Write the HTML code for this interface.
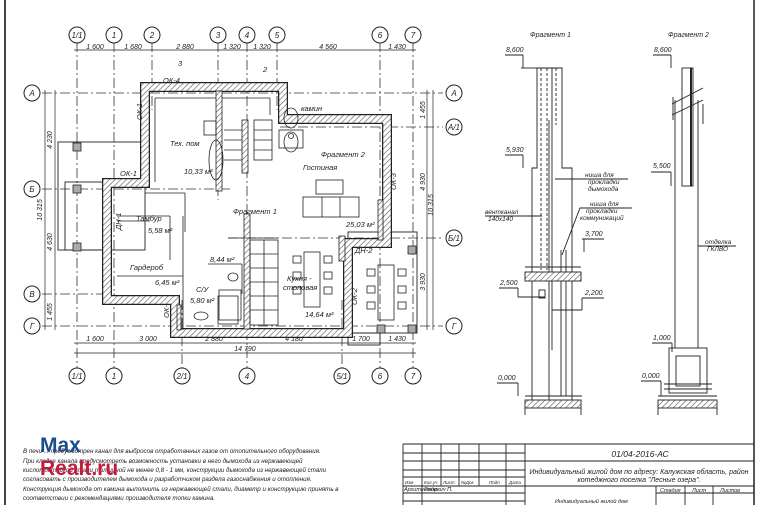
<!DOCTYPE html>
<html><head><meta charset="utf-8"><style>
html,body{margin:0;padding:0;background:#fff;}
svg{display:block;}
text{font-family:"Liberation Sans",sans-serif;font-style:italic;fill:#222;}
</style></head><body>
<svg width="761" height="505" viewBox="0 0 761 505" xmlns="http://www.w3.org/2000/svg">
<defs>
<pattern id="h" width="4" height="4" patternUnits="userSpaceOnUse" patternTransform="rotate(45)">
<rect width="4" height="4" fill="#fff"/><line x1="0" y1="0" x2="0" y2="4" stroke="#555" stroke-width="1.2"/>
</pattern>
</defs>
<rect width="761" height="505" fill="#fff"/>
<!-- frame -->
<line x1="5" y1="0" x2="5" y2="505" stroke="#444" stroke-width="2"/>
<line x1="754" y1="0" x2="754" y2="505" stroke="#222" stroke-width="1.5"/>

<!-- axis lines -->
<g stroke="#333" stroke-width="0.8" stroke-dasharray="10,3,2,3" fill="none">
<line x1="77" y1="42" x2="77" y2="368"/><line x1="114" y1="42" x2="114" y2="368"/>
<line x1="152" y1="42" x2="152" y2="110"/><line x1="218" y1="42" x2="218" y2="200"/>
<line x1="247" y1="42" x2="247" y2="368"/><line x1="277" y1="42" x2="277" y2="110"/>
<line x1="380" y1="42" x2="380" y2="368"/><line x1="413" y1="42" x2="413" y2="368"/>
<line x1="182" y1="300" x2="182" y2="368"/><line x1="342" y1="300" x2="342" y2="368"/>
<line x1="42" y1="93" x2="443" y2="93"/><line x1="280" y1="127" x2="443" y2="127"/>
<line x1="42" y1="189" x2="230" y2="189"/><line x1="228" y1="238" x2="443" y2="238"/>
<line x1="42" y1="294" x2="115" y2="294"/><line x1="42" y1="326" x2="443" y2="326"/>
</g>
<!-- bubbles -->
<g fill="#fff" stroke="#222" stroke-width="1">
<circle cx="77" cy="35" r="8"/><circle cx="114" cy="35" r="8"/><circle cx="152" cy="35" r="8"/><circle cx="218" cy="35" r="8"/><circle cx="247" cy="35" r="8"/><circle cx="277" cy="35" r="8"/><circle cx="380" cy="35" r="8"/><circle cx="413" cy="35" r="8"/>
<circle cx="77" cy="376" r="8"/><circle cx="114" cy="376" r="8"/><circle cx="182" cy="376" r="8"/><circle cx="247" cy="376" r="8"/><circle cx="342" cy="376" r="8"/><circle cx="380" cy="376" r="8"/><circle cx="413" cy="376" r="8"/>
<circle cx="32" cy="93" r="8"/><circle cx="32" cy="189" r="8"/><circle cx="32" cy="294" r="8"/><circle cx="32" cy="326" r="8"/>
<circle cx="454" cy="93" r="8"/><circle cx="454" cy="127" r="8"/><circle cx="454" cy="238" r="8"/><circle cx="454" cy="326" r="8"/>
</g>
<g font-size="8" text-anchor="middle">
<text x="77" y="38">1/1</text><text x="114" y="38">1</text><text x="152" y="38">2</text><text x="218" y="38">3</text><text x="247" y="38">4</text><text x="277" y="38">5</text><text x="380" y="38">6</text><text x="413" y="38">7</text>
<text x="77" y="379">1/1</text><text x="114" y="379">1</text><text x="182" y="379">2/1</text><text x="247" y="379">4</text><text x="342" y="379">5/1</text><text x="380" y="379">6</text><text x="413" y="379">7</text>
<text x="32" y="96">А</text><text x="32" y="192">Б</text><text x="32" y="297">В</text><text x="32" y="329">Г</text>
<text x="454" y="96">А</text><text x="454" y="130">А/1</text><text x="454" y="241">Б/1</text><text x="454" y="329">Г</text>
</g>
<!-- dimension lines -->
<g stroke="#222" stroke-width="0.7">
<line x1="74" y1="50" x2="416" y2="50"/>
<line x1="74" y1="343" x2="416" y2="343"/><line x1="74" y1="353" x2="416" y2="353"/>
<line x1="45" y1="90" x2="45" y2="330"/><line x1="55" y1="90" x2="55" y2="330"/>
<line x1="427" y1="90" x2="427" y2="330"/><line x1="433" y1="90" x2="433" y2="330"/>
</g>
<g font-size="7" text-anchor="middle">
<text x="95" y="49">1 600</text><text x="133" y="49">1 680</text><text x="185" y="49">2 880</text><text x="232" y="49">1 320</text><text x="262" y="49">1 320</text><text x="328" y="49">4 560</text><text x="397" y="49">1 430</text>
<text x="95" y="341">1 600</text><text x="148" y="341">3 000</text><text x="214" y="341">2 880</text><text x="294" y="341">4 180</text><text x="361" y="341">1 700</text><text x="397" y="341">1 430</text>
<text x="245" y="351">14 790</text>
</g>
<g font-size="7" text-anchor="middle">
<text transform="translate(52,140) rotate(-90)">4 230</text>
<text transform="translate(52,242) rotate(-90)">4 630</text>
<text transform="translate(42,210) rotate(-90)">10 315</text>
<text transform="translate(52,312) rotate(-90)">1 455</text>
<text transform="translate(425,110) rotate(-90)">1 455</text>
<text transform="translate(425,182) rotate(-90)">4 930</text>
<text transform="translate(433,205) rotate(-90)">10 315</text>
<text transform="translate(425,282) rotate(-90)">3 930</text>
</g>

<!-- porch left -->
<g fill="none" stroke="#222" stroke-width="0.9">
<rect x="58" y="142" width="87" height="108"/>
<rect x="65" y="182" width="42" height="68"/>
<rect x="348" y="232" width="69" height="101"/>
<rect x="348" y="333" width="32" height="12"/>
</g>
<g fill="#aaa" stroke="#222" stroke-width="0.8">
<rect x="73" y="143" width="8" height="8"/><rect x="73" y="185" width="8" height="8"/><rect x="73" y="243" width="8" height="8"/>
<rect x="408" y="246" width="8" height="8"/><rect x="377" y="325" width="8" height="8"/><rect x="408" y="325" width="8" height="8"/>
</g>

<!-- outer walls -->
<path d="M145,87 L283,87 L283,119 L387,119 L387,243 L348,243 L348,333 L175,333 L175,300 L107,300 L107,183 L145,183 Z" fill="none" stroke="#222" stroke-width="10"/>
<path d="M145,87 L283,87 L283,119 L387,119 L387,243 L348,243 L348,333 L175,333 L175,300 L107,300 L107,183 L145,183 Z" fill="none" stroke="url(#h)" stroke-width="7.5"/>
<!-- interior walls -->
<g fill="url(#h)" stroke="#222" stroke-width="0.8">
<rect x="216" y="91" width="6" height="100"/>
<rect x="242" y="120" width="6" height="53"/>
<rect x="244" y="214" width="6" height="115"/>
<rect x="177" y="305" width="4" height="25"/>
<rect x="339" y="236" width="6" height="25"/>
<rect x="378" y="200" width="5" height="40"/>
</g>
<g fill="none" stroke="#222" stroke-width="0.8">
<line x1="155" y1="98" x2="216" y2="98"/><line x1="155" y1="98" x2="155" y2="182"/>
<line x1="222" y1="98" x2="270" y2="98"/><line x1="270" y1="98" x2="270" y2="115"/>
<line x1="145" y1="193" x2="185" y2="193"/><line x1="185" y1="193" x2="185" y2="232"/>
<line x1="117" y1="216" x2="170" y2="216"/><line x1="117" y1="221" x2="150" y2="221"/>
<line x1="170" y1="216" x2="170" y2="260"/><line x1="183" y1="216" x2="183" y2="330"/>
<line x1="117" y1="276" x2="183" y2="276"/>
<line x1="208" y1="264" x2="242" y2="264"/><line x1="242" y1="264" x2="242" y2="294"/>
<line x1="228" y1="238" x2="278" y2="238"/>
<rect x="219" y="290" width="22" height="30"/>
<rect x="250" y="240" width="28" height="85"/>
<line x1="250" y1="254" x2="278" y2="254"/><line x1="250" y1="268" x2="278" y2="268"/><line x1="250" y1="282" x2="278" y2="282"/><line x1="250" y1="296" x2="278" y2="296"/><line x1="250" y1="310" x2="278" y2="310"/>
<line x1="264" y1="240" x2="264" y2="325"/>
<rect x="304" y="252" width="16" height="55"/>
<rect x="293" y="256" width="8" height="7"/><rect x="293" y="272" width="8" height="7"/><rect x="293" y="287" width="8" height="7"/>
<rect x="324" y="256" width="8" height="7"/><rect x="324" y="272" width="8" height="7"/><rect x="324" y="287" width="8" height="7"/>
<rect x="378" y="265" width="16" height="55"/>
<rect x="367" y="269" width="8" height="7"/><rect x="367" y="286" width="8" height="7"/><rect x="367" y="302" width="8" height="7"/>
<rect x="398" y="269" width="8" height="7"/><rect x="398" y="286" width="8" height="7"/><rect x="398" y="302" width="8" height="7"/>
<rect x="316" y="180" width="27" height="14"/>
<rect x="303" y="197" width="56" height="20"/><line x1="322" y1="197" x2="322" y2="217"/><line x1="340" y1="197" x2="340" y2="217"/>
<rect x="279" y="130" width="24" height="18"/><ellipse cx="291" cy="118" rx="7" ry="10"/><ellipse cx="291" cy="142" rx="7" ry="10"/>
<circle cx="291" cy="136" r="2.5"/>
<rect x="254" y="120" width="18" height="40"/>
<line x1="254" y1="130" x2="272" y2="130"/><line x1="254" y1="140" x2="272" y2="140"/><line x1="254" y1="150" x2="272" y2="150"/>
<line x1="224" y1="130" x2="242" y2="130"/><line x1="224" y1="140" x2="242" y2="140"/><line x1="224" y1="150" x2="242" y2="150"/><line x1="224" y1="160" x2="242" y2="160"/>
<ellipse cx="216" cy="160" rx="7" ry="20"/>
<rect x="204" y="121" width="12" height="14"/>
<rect x="218" y="296" width="20" height="28"/><ellipse cx="201" cy="316" rx="7" ry="4"/>
<ellipse cx="233" cy="277" rx="5" ry="4"/>
</g>
<!-- labels -->
<g font-size="7.5">
<text x="170" y="146">Тех. пом</text>
<text x="184" y="174">10,33 м²</text>
<text x="303" y="170">Гостиная</text>
<text x="136" y="221">Тамбур</text>
<text x="148" y="233">5,58 м²</text>
<text x="130" y="270">Гардероб</text>
<text x="155" y="285">6,45 м²</text>
<text x="210" y="262">8,44 м²</text>
<text x="196" y="292">С/У</text>
<text x="190" y="303">5,80 м²</text>
<text x="287" y="281">Кухня -</text>
<text x="283" y="290">столовая</text>
<text x="305" y="317">14,64 м²</text>
<text x="346" y="227">25,03 м²</text>
<text x="301" y="111">камин</text>
<text x="321" y="157">Фрагмент 2</text>
<text x="233" y="214">Фрагмент 1</text>
<text x="163" y="83">ОК-4</text>
<text x="120" y="176">ОК-1</text>
<text x="355" y="253">ДН-2</text>
<text x="174" y="50" font-size="0">.</text>
<text x="178" y="66">3</text><text x="263" y="72">2</text>
</g>
<g font-size="7.5">
<text transform="translate(142,120) rotate(-90)">ОК-1</text>
<text transform="translate(396,190) rotate(-90)">ОК-3</text>
<text transform="translate(357,305) rotate(-90)">ОК-2</text>
<text transform="translate(121,230) rotate(-90)">ДН-1</text>
<text transform="translate(169,318) rotate(-90)">ОК-</text>
</g>

<!-- Fragment 1 -->
<g fill="none" stroke="#222" stroke-width="0.9">
<text x="530" y="37" font-size="7" stroke="none">Фрагмент 1</text>
<text x="506" y="52" font-size="7" stroke="none">8,600</text>
<line x1="505" y1="55" x2="523" y2="55"/><line x1="523" y1="55" x2="523" y2="68"/>
<line x1="521" y1="68" x2="537" y2="68"/>
<polyline points="537,68 562,68 562,168 572,168 572,400"/>
<polyline points="537,68 537,168 532,168 532,400"/>
<line x1="552" y1="68" x2="552" y2="350"/><line x1="549" y1="120" x2="549" y2="400"/>
<line x1="541" y1="68" x2="541" y2="270" stroke-dasharray="3,2"/><line x1="547" y1="68" x2="547" y2="270" stroke-dasharray="3,2"/>
<line x1="556" y1="68" x2="556" y2="125" stroke-dasharray="3,2"/>
<line x1="561" y1="250" x2="561" y2="396"/><line x1="566" y1="250" x2="566" y2="396"/>
<rect x="525" y="272" width="56" height="9" fill="url(#h)"/>
<line x1="525" y1="267" x2="581" y2="267"/>
<text x="506" y="152" font-size="7" stroke="none">5,930</text>
<line x1="505" y1="155" x2="523" y2="155"/><line x1="523" y1="155" x2="523" y2="168"/>
<text x="485" y="214" font-size="6.5" stroke="none">вентканал</text><text x="488" y="221" font-size="6.5" stroke="none">140х140</text>
<line x1="485" y1="216" x2="542" y2="216"/>
<text x="585" y="177" font-size="6.5" stroke="none">ниша для</text><text x="588" y="184" font-size="6.5" stroke="none">прокладки</text><text x="588" y="191" font-size="6.5" stroke="none">дымохода</text>
<line x1="555" y1="179" x2="628" y2="179"/>
<text x="590" y="206" font-size="6.5" stroke="none">ниша для</text><text x="586" y="213" font-size="6.5" stroke="none">прокладки</text><text x="580" y="220" font-size="6.5" stroke="none">коммуникаций</text>
<polyline points="562,255 580,208 632,208"/>
<text x="585" y="236" font-size="7" stroke="none">3,700</text>
<line x1="582" y1="239" x2="604" y2="239"/><line x1="584" y1="239" x2="584" y2="252"/>
<text x="500" y="285" font-size="7" stroke="none">2,500</text>
<line x1="499" y1="288" x2="518" y2="288"/><line x1="518" y1="288" x2="518" y2="297"/><line x1="518" y1="297" x2="545" y2="297"/>
<rect x="539" y="290" width="6" height="8"/>
<text x="585" y="295" font-size="7" stroke="none">2,200</text>
<line x1="582" y1="298" x2="604" y2="298"/><line x1="582" y1="298" x2="582" y2="310"/><line x1="552" y1="310" x2="582" y2="310"/>
<text x="498" y="380" font-size="7" stroke="none">0,000</text>
<line x1="497" y1="383" x2="518" y2="383"/><line x1="518" y1="383" x2="518" y2="396"/>
<line x1="525" y1="396" x2="582" y2="396"/>
<rect x="525" y="400" width="56" height="8" fill="url(#h)"/>
<line x1="525" y1="408" x2="525" y2="415"/><line x1="581" y1="408" x2="581" y2="415"/>
</g>
<!-- Fragment 2 -->
<g fill="none" stroke="#222" stroke-width="0.9">
<text x="668" y="37" font-size="7" stroke="none">Фрагмент 2</text>
<text x="654" y="52" font-size="7" stroke="none">8,600</text>
<line x1="653" y1="55" x2="671" y2="55"/><line x1="671" y1="55" x2="671" y2="68"/>
<rect x="682" y="68" width="11" height="118"/>
<line x1="691" y1="68" x2="691" y2="186" stroke-width="2"/>
<line x1="675" y1="100" x2="675" y2="348"/><line x1="698" y1="100" x2="698" y2="348"/>
<line x1="672" y1="104" x2="703" y2="88"/><line x1="672" y1="115" x2="703" y2="100"/>
<line x1="673" y1="97" x2="673" y2="120"/><line x1="703" y1="104" x2="703" y2="124"/>
<text x="653" y="168" font-size="7" stroke="none">5,500</text>
<line x1="651" y1="172" x2="671" y2="172"/><line x1="671" y1="172" x2="671" y2="186"/>
<text x="705" y="244" font-size="6.5" stroke="none">отделка</text><text x="707" y="251" font-size="6.5" stroke="none">ГКЛВО</text>
<line x1="698" y1="246" x2="736" y2="246"/>
<text x="653" y="340" font-size="7" stroke="none">1,000</text>
<line x1="652" y1="343" x2="672" y2="343"/><line x1="672" y1="343" x2="672" y2="352"/>
<rect x="669" y="348" width="38" height="45"/>
<rect x="676" y="356" width="24" height="30"/>
<line x1="664" y1="384" x2="712" y2="384"/><line x1="664" y1="389" x2="712" y2="389"/>
<text x="642" y="378" font-size="7" stroke="none">0,000</text>
<line x1="641" y1="381" x2="661" y2="381"/><line x1="661" y1="381" x2="661" y2="396"/>
<rect x="658" y="400" width="59" height="8" fill="url(#h)"/>
<line x1="658" y1="396" x2="717" y2="396"/>
<line x1="658" y1="408" x2="658" y2="415"/><line x1="717" y1="408" x2="717" y2="415"/>
</g>

<!-- notes -->
<g font-size="6.2" style="font-style:normal">
<text x="23" y="453">В печи ... предусмотрен канал для выбросов отработанных газов от отопительного оборудования.</text>
<text x="23" y="463">При кладке канала предусмотреть возможность установки в него дымохода из нержавеющей</text>
<text x="23" y="472">кислотостойкой стали толщиной не менее 0,8 - 1 мм, конструкции дымохода из нержавеющей стали</text>
<text x="23" y="481">согласовать с производителем дымохода и разработчиком раздела газоснабжения и отопления.</text>
<text x="23" y="491">Конструкция дымохода от камина выполнить из нержавеющей стали, диаметр и конструкцию принять в</text>
<text x="23" y="500">соответствии с рекомендациями производителя топки камина.</text>
</g>
<text x="40" y="452" font-size="21" font-weight="bold" style="font-style:normal;fill:#1d4e89">Max</text>
<text x="40" y="475" font-size="21" font-weight="bold" style="font-style:normal;fill:#c41a40">Realt.ru</text>

<!-- title block -->
<g stroke="#222" stroke-width="0.9" fill="none">
<line x1="403" y1="444" x2="754" y2="444"/>
<line x1="403" y1="444" x2="403" y2="505"/>
<line x1="525" y1="444" x2="525" y2="505"/>
<line x1="422" y1="444" x2="422" y2="505"/><line x1="441" y1="444" x2="441" y2="486"/><line x1="459" y1="444" x2="459" y2="486"/><line x1="479" y1="444" x2="479" y2="486"/><line x1="506" y1="444" x2="506" y2="505"/>
<line x1="403" y1="453" x2="525" y2="453"/><line x1="403" y1="461" x2="754" y2="461"/><line x1="403" y1="470" x2="525" y2="470"/><line x1="403" y1="477" x2="525" y2="477"/>
<line x1="403" y1="486" x2="754" y2="486"/><line x1="403" y1="493" x2="525" y2="493"/><line x1="403" y1="501" x2="525" y2="501"/><line x1="656" y1="493" x2="754" y2="493"/>
<line x1="656" y1="486" x2="656" y2="505"/><line x1="685" y1="486" x2="685" y2="505"/><line x1="713" y1="486" x2="713" y2="505"/>
</g>
<text x="640" y="457" font-size="8.5" text-anchor="middle">01/04-2016-АС</text>
<text x="639" y="474" font-size="7" text-anchor="middle">Индивидуальный жилой дом по адресу: Калужская область, район</text>
<text x="639" y="482" font-size="7" text-anchor="middle">котеджного поселка "Лесные озера".</text>
<g font-size="4.5"><text x="405" y="484">Изм</text><text x="424" y="484">Кол.уч</text><text x="443" y="484">Лист</text><text x="461" y="484">№Док</text><text x="489" y="484">Подп</text><text x="509" y="484">Дата</text></g>
<g font-size="5.5"><text x="404" y="491">Архитектор</text><text x="424" y="491">Радевич П.</text>
<text x="660" y="492">Стадия</text><text x="692" y="492">Лист</text><text x="720" y="492">Листов</text>
<text x="555" y="503">Индивидуальный жилой дом</text></g>
</svg>
</body></html>
